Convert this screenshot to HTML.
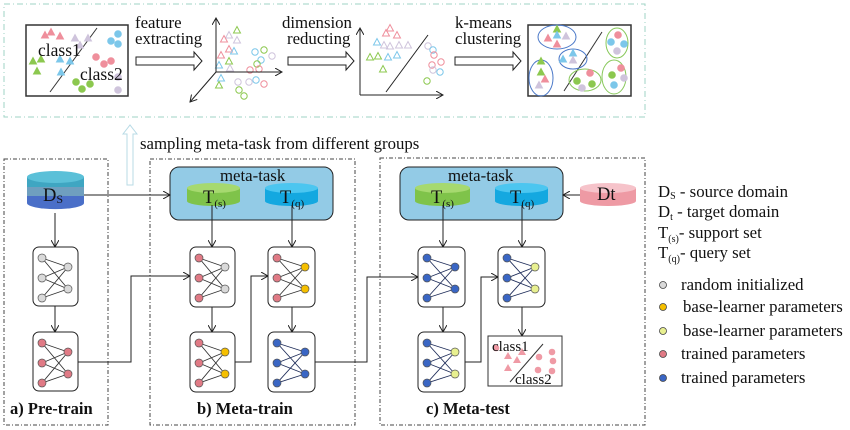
<!DOCTYPE html>
<html><head><meta charset="utf-8"><style>
body{margin:0;background:#fff;width:850px;height:430px;overflow:hidden}
svg{display:block}
text{font-family:"Liberation Serif",serif;fill:#111}
</style></head><body>
<svg id="s" width="850" height="430" viewBox="0 0 850 430" xmlns="http://www.w3.org/2000/svg">
<defs>
<marker id="ah" markerWidth="8" markerHeight="8" refX="7" refY="4" orient="auto" markerUnits="userSpaceOnUse"><path d="M0,0 L7,4 L0,8" fill="none" stroke="#222" stroke-width="1"/></marker>
</defs>
<rect x="4" y="4" width="641" height="113" fill="none" stroke="#9fd3c4" stroke-width="1" stroke-dasharray="6,3,1,3"/>
<rect x="26" y="25" width="102" height="71" fill="#fff" stroke="#333" stroke-width="1.5"/>
<line x1="50" y1="92" x2="97" y2="28" stroke="#333"/>
<g id="sc1"></g>
<text x="38" y="56" font-size="17.5">class1</text>
<text x="80" y="80" font-size="17.5">class2</text>
<text x="135" y="28" font-size="16.8">feature</text>
<text x="135" y="44" font-size="16.8">extracting</text>
<path d="M136,57 H194 V52 L202,61 L194,70 V65 H136 Z" fill="#fff" stroke="#222"/>
<line x1="216" y1="72" x2="216" y2="18" stroke="#222" marker-end="url(#ah)"/>
<line x1="216" y1="72" x2="282" y2="72" stroke="#222" marker-end="url(#ah)"/>
<line x1="216" y1="72" x2="190" y2="102" stroke="#222" marker-end="url(#ah)"/>
<text x="282" y="28" font-size="16.8">dimension</text>
<text x="287" y="44" font-size="16.8">reducting</text>
<path d="M288,57 H346 V52 L354,61 L346,70 V65 H288 Z" fill="#fff" stroke="#222"/>
<line x1="360" y1="95" x2="360" y2="28" stroke="#222" marker-end="url(#ah)"/>
<line x1="360" y1="95" x2="443" y2="95" stroke="#222" marker-end="url(#ah)"/>
<line x1="386" y1="92" x2="428" y2="35" stroke="#222"/>
<text x="455" y="28" font-size="16.8">k-means</text>
<text x="455" y="44" font-size="16.8">clustering</text>
<path d="M455,57 H513 V52 L521,61 L513,70 V65 H455 Z" fill="#fff" stroke="#222"/>
<rect x="528" y="25" width="103" height="71" fill="#fff" stroke="#333" stroke-width="1.5"/>
<line x1="564" y1="91" x2="602" y2="32" stroke="#333"/>
<g fill="none" stroke-width="1">
<ellipse cx="557" cy="37" rx="19" ry="12" stroke="#4a78c8"/>
<ellipse cx="573" cy="59" rx="14" ry="10" stroke="#4a78c8"/>
<ellipse cx="541" cy="78" rx="12" ry="18" stroke="#4a78c8"/>
<ellipse cx="585" cy="80" rx="16" ry="11" stroke="#88c85a"/>
<ellipse cx="617" cy="43" rx="11" ry="15" stroke="#88c85a"/>
<ellipse cx="614" cy="77" rx="12" ry="17" stroke="#88c85a"/>
</g>
<g id="sc2"></g>
<path d="M127,185 V134 H123 L130,125 L137,134 H133 V185 Z" fill="none" stroke="#b8dbe6"/>
<text x="140" y="149" font-size="16.8">sampling meta-task from different groups</text>
<g fill="none" stroke="#444" stroke-dasharray="4,2,1,2">
<rect x="4" y="159" width="104" height="266"/>
<rect x="150" y="159" width="205" height="266"/>
<rect x="380" y="158" width="265" height="267"/>
</g>
<text x="10" y="414" font-size="16.5" font-weight="bold">a) Pre-train</text>
<text x="197" y="414" font-size="16.5" font-weight="bold">b) Meta-train</text>
<text x="426" y="414" font-size="16.5" font-weight="bold">c) Meta-test</text>
<path d="M27,177 V203 A28,6 0 0 0 84,203 V177" fill="#4a6fc8"/>
<rect x="27" y="186" width="57" height="10" fill="#6f9fbf"/>
<rect x="27" y="177" width="57" height="10" fill="#3fa6c2"/>
<ellipse cx="55.5" cy="177" rx="28.5" ry="6" fill="#5bc0d8"/>
<text x="43" y="201" font-size="18.5">D<tspan font-size="12" dy="2">S</tspan></text>
<rect x="170" y="167" width="163" height="53" rx="9" fill="#93cbe6" stroke="#222"/>
<text x="220" y="181" font-size="16.8">meta-task</text>
<rect x="400" y="167" width="163" height="53" rx="9" fill="#93cbe6" stroke="#222"/>
<text x="448" y="181" font-size="16.8">meta-task</text>
<g id="cyl"></g>
<text x="203" y="203" font-size="18.5">T<tspan font-size="11" dy="4">(s)</tspan></text>
<text x="280" y="203" font-size="18.5">T<tspan font-size="11" dy="4">(q)</tspan></text>
<text x="431" y="203" font-size="18.5">T<tspan font-size="11" dy="4">(s)</tspan></text>
<text x="510" y="203" font-size="18.5">T<tspan font-size="11" dy="4">(q)</tspan></text>
<text x="597" y="200" font-size="18.5">Dt</text>
<g fill="none" stroke="#222" marker-end="url(#ah)">
<line x1="84" y1="195" x2="170" y2="195"/>
<line x1="55" y1="213" x2="55" y2="247"/>
<line x1="55" y1="306" x2="55" y2="332"/>
<line x1="212" y1="205" x2="212" y2="247"/>
<line x1="292" y1="205" x2="292" y2="247"/>
<line x1="212" y1="307" x2="212" y2="332"/>
<line x1="292" y1="307" x2="292" y2="332"/>
<line x1="443" y1="205" x2="443" y2="247"/>
<line x1="522" y1="205" x2="522" y2="247"/>
<line x1="443" y1="307" x2="443" y2="332"/>
<line x1="522" y1="307" x2="522" y2="336"/>
<line x1="580" y1="195" x2="563" y2="195"/>
<polyline points="78,362 131,362 131,276 190,276"/>
<polyline points="235,362 251,362 251,276 268,276"/>
<polyline points="315,362 367,362 367,277 418,277"/>
<polyline points="465,362 481,362 481,277 498,277"/>
</g>
<g id="nets"></g>
<rect x="488" y="336" width="74" height="50" fill="#fff" stroke="#333"/>
<line x1="510" y1="382" x2="543" y2="344" stroke="#333"/>
<g fill="#ef9aa5">
<path d="M504,359 l4,-7 l4,7z"/><path d="M513,363 l4,-7 l4,7z"/><path d="M518,355 l4,-7 l4,7z"/><path d="M504,371 l4,-7 l4,7z"/>
<circle cx="539" cy="357" r="3.3"/><circle cx="552" cy="352" r="3.3"/><circle cx="553" cy="361" r="3.3"/><circle cx="538" cy="370" r="3.3"/><circle cx="552" cy="371" r="3.3"/><circle cx="496" cy="348" r="3.3"/>
</g>
<text x="492" y="351" font-size="15">class1</text>
<text x="515" y="384" font-size="15">class2</text>
<text x="658" y="197" font-size="16.8">D<tspan font-size="10" dy="2">S</tspan><tspan dy="-2"> - source domain</tspan></text>
<text x="658" y="217" font-size="16.8">D<tspan font-size="10" dy="3">t</tspan><tspan dy="-3"> - target domain</tspan></text>
<text x="658" y="238" font-size="16.8">T<tspan font-size="10" dy="4">(s)</tspan><tspan dy="-4">- support set</tspan></text>
<text x="658" y="258" font-size="16.8">T<tspan font-size="10" dy="4">(q)</tspan><tspan dy="-4">- query set</tspan></text>
<g stroke="#444" stroke-width="0.8">
<circle cx="663" cy="285" r="3.5" fill="#d9d9d9"/>
<circle cx="663" cy="307" r="3.5" fill="#f5bf00"/>
<circle cx="663" cy="331" r="3.5" fill="#e8f090"/>
<circle cx="663" cy="354" r="3.5" fill="#e07a85"/>
<circle cx="663" cy="378" r="3.5" fill="#3a66c4"/>
</g>
<text x="681" y="290" font-size="16.8">random initialized</text>
<text x="683" y="312" font-size="16.8">base-learner parameters</text>
<text x="683" y="336" font-size="16.8">base-learner parameters</text>
<text x="681" y="359" font-size="16.8">trained parameters</text>
<text x="681" y="383" font-size="16.8">trained parameters</text>
</svg>
<script>
var NS="http://www.w3.org/2000/svg";
function el(p,t,a){var e=document.createElementNS(NS,t);for(var k in a)e.setAttribute(k,a[k]);p.appendChild(e);return e;}
var G="#d9d9d9",P="#e07a85",Y="#f5bf00",LY="#e8f090",B="#3a66c4";
var nets=document.getElementById("nets");
function net(x,y,w,h,lc,rc,dark){
 el(nets,"rect",{x:x,y:y,width:w,height:h,rx:6,fill:"#fff",stroke:"#222"});
 var L=[[x+9,y+11],[x+9,y+31],[x+9,y+51]],R=[[x+w-10,y+20],[x+w-10,y+42]];
 L.forEach(function(a){R.forEach(function(b){el(nets,"line",{x1:a[0],y1:a[1],x2:b[0],y2:b[1],stroke:dark?"#1f2d5a":"#333","stroke-width":0.9});});});
 L.forEach(function(a){el(nets,"circle",{cx:a[0],cy:a[1],r:4,fill:lc,stroke:"#555","stroke-width":0.7});});
 R.forEach(function(a){el(nets,"circle",{cx:a[0],cy:a[1],r:4,fill:rc,stroke:"#555","stroke-width":0.7});});
}
net(33,247,45,59,G,G);net(33,332,45,59,P,P);
net(190,247,45,60,P,G);net(268,247,47,60,P,Y);
net(190,332,45,60,P,Y);net(268,332,47,60,B,B,1);
net(418,247,47,60,B,B,1);net(498,247,47,60,B,LY,1);
net(418,332,47,60,B,LY,1);
var cyl=document.getElementById("cyl");
function cy(x,w,c1,c2){el(cyl,"path",{d:"M"+x+",188 V201 A"+w/2+",5 0 0 0 "+(x+w)+",201 V188",fill:c1});el(cyl,"ellipse",{cx:x+w/2,cy:188,rx:w/2,ry:5,fill:c2});}
cy(187,53,"#7fc34a","#a6d96f");cy(265,53,"#14a8e0","#4cc6f0");
cy(415,55,"#7fc34a","#a6d96f");cy(495,53,"#14a8e0","#4cc6f0");cy(580,56,"#ee9aa4","#f6c3ca");
var pk="#ef8f9c",bl="#7cc7ea",gr="#8cc84f",lv="#cfc4dc";
function tri(g,x,y,c,f){el(g,"path",{d:"M"+(x-3.5)+","+(y+3)+" L"+x+","+(y-3.5)+" L"+(x+3.5)+","+(y+3)+"Z",fill:f?c:"none",stroke:c});}
function cir(g,x,y,c,f){el(g,"circle",{cx:x,cy:y,r:f?3.3:3.2,fill:f?c:"none",stroke:c});}
var s1=document.getElementById("sc1");
[[45,35,pk],[51,32,pk],[60,36,pk],[75,38,lv],[88,38,lv],[33,61,gr],[41,59,gr],[60,59,bl],[70,61,bl],[37,71,gr],[61,72,bl],[80,45,lv]].forEach(function(a){tri(s1,a[0],a[1],a[2],1);});
[[118,34,bl],[111,41,bl],[118,44,bl],[96,57,pk],[104,64,pk],[111,61,pk],[118,77,lv],[118,90,lv],[76,82,gr],[82,89,gr],[90,84,gr]].forEach(function(a){cir(s1,a[0],a[1],a[2],1);});
var t3=[[237,30,gr],[229,35,lv],[237,40,lv],[224,39,pk],[229,49,pk],[234,51,bl],[221,55,pk],[229,61,gr],[219,65,bl],[230,68,lv],[221,78,bl],[219,85,gr],[390,28,pk],[386,33,pk],[397,35,pk],[377,42,bl],[384,45,lv],[390,46,lv],[399,45,lv],[408,45,lv],[370,57,gr],[378,56,gr],[388,57,bl],[397,55,bl],[383,69,gr]];
t3.forEach(function(a){tri(s1,a[0],a[1],a[2],0);});
var c3=[[255,52,bl],[264,50,gr],[272,56,lv],[261,60,bl],[257,64,gr],[250,70,pk],[259,69,pk],[238,82,lv],[249,82,lv],[256,80,bl],[264,84,pk],[239,90,gr],[244,96,gr],[428,46,lv],[433,50,bl],[434,55,pk],[441,62,pk],[432,65,pk],[433,70,lv],[440,72,bl],[427,81,gr]];
c3.forEach(function(a){cir(s1,a[0],a[1],a[2],0);});
var s2=document.getElementById("sc2");
[[557,29,gr],[548,38,pk],[557,35,bl],[566,36,lv],[557,44,pk],[573,53,bl],[563,59,bl],[573,60,lv],[541,61,gr],[541,72,gr],[545,79,pk],[539,85,lv]].forEach(function(a){tri(s2,a[0],a[1],a[2],1);});
[[618,35,pk],[611,42,bl],[624,44,bl],[617,51,lv],[590,73,pk],[577,81,gr],[592,84,gr],[582,88,lv],[621,68,pk],[612,75,gr],[624,78,lv],[614,85,bl]].forEach(function(a){cir(s2,a[0],a[1],a[2],1);});
</script>
</body></html>
